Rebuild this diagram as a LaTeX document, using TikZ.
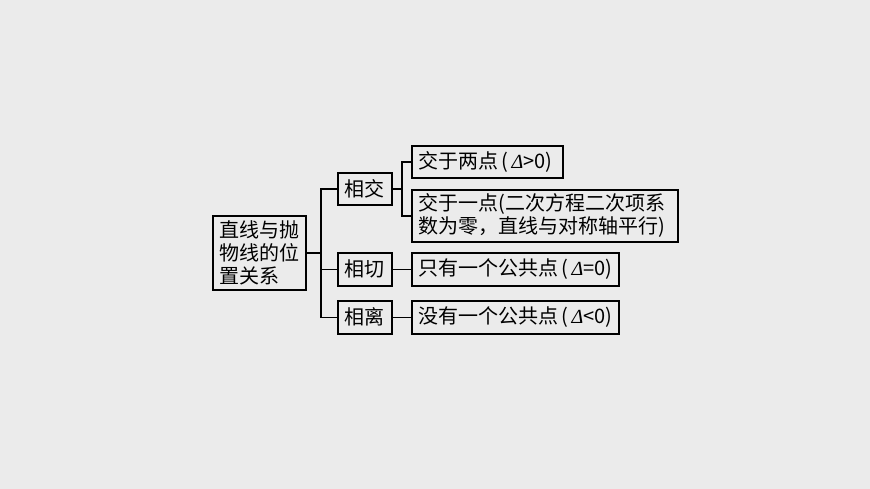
\documentclass[tikz,border=0pt]{standalone}
\usepackage{fontspec}
\setmainfont{Noto Sans CJK SC}
\newfontfamily\latserif{Liberation Serif}
\newcommand{\dlt}{{\latserif\itshape Δ}}
\begin{document}
\begin{tikzpicture}[x=1pt,y=-1pt,
  bx/.style={draw=black, line width=1.6pt, anchor=north west, inner ysep=0pt, inner xsep=6.5pt,
    font=\fontsize{20}{23}\selectfont, text=black},
  lft/.style={align=left, text width=#1},
  con/.style={draw=black, line width=1.6pt}]
\useasboundingbox[fill={rgb,255:red,235;green,235;blue,235}] (0,0) rectangle (870,489);
% nodes
\node[bx, lft=80pt, minimum width=93pt, minimum height=74pt] (main) at (212,215)
  {直线与抛\\物线的位\\置关系};
\node[bx, inner xsep=0pt, minimum width=54pt, minimum height=32pt] (xj) at (337,172) {相交};
\node[bx, inner xsep=0pt, minimum width=54pt, minimum height=33pt] (xq) at (337,252) {相切};
\node[bx, inner xsep=0pt, minimum width=54pt, minimum height=33pt] (xl) at (337,300) {相离};
\node[bx, lft=138pt, minimum height=32pt] (r1) at (411,145)
  {交于两点\,(\,\dlt{}>0)};
\node[bx, lft=253pt, minimum height=52pt] (r2) at (411,189)
  {交于一点(二次方程二次项系\\数为零，直线与对称轴平行)};
\node[bx, lft=194pt, minimum height=33pt] (r3) at (411,252)
  {只有一个公共点\,(\,\dlt{}=0)};
\node[bx, lft=194pt, minimum height=33pt] (r4) at (411,300)
  {没有一个公共点\,(\,\dlt{}<0)};
% trunk coordinates
\coordinate (t1) at (321,0);
\coordinate (t2) at (402,0);
% connectors
\draw[con] (main.east) -- (main.east -| t1);
\draw[con] (xj.west) -- (xj.west -| t1) -- (xl.west -| t1) -- (xl.west);
\draw[con] (xq.west) -- (xq.west -| t1);
\draw[con] (xj.east) -- (xj.east -| t2);
\draw[con] (r1.west) -- (r1.west -| t2) -- (r2.west -| t2) -- (r2.west);
\draw[con] (xq.east) -- (r3.west);
\draw[con] (xl.east) -- (r4.west);
\end{tikzpicture}
\end{document}
